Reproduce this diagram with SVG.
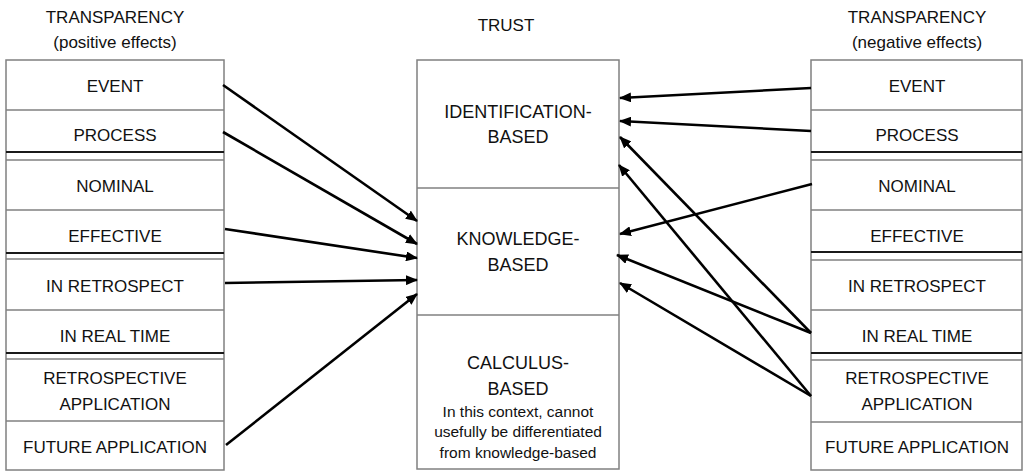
<svg xmlns="http://www.w3.org/2000/svg" width="1023" height="473" viewBox="0 0 1023 473">
<style>
text{font-family:"Liberation Sans",Arial,sans-serif;fill:#111;text-anchor:middle}
.h{font-size:17px}
.l{font-size:17px}
.c{font-size:18px}
.s{font-size:15.5px}
.box{fill:#fff;stroke:#808080;stroke-width:1.5}
.thin{stroke:#808080;stroke-width:1.5}
.thick{stroke:#1a1a1a;stroke-width:2.2}
.arr{stroke:#000;stroke-width:2.6;fill:none;marker-end:url(#ah)}
</style>
<defs>
<marker id="ah" markerUnits="userSpaceOnUse" markerWidth="12" markerHeight="10" refX="11" refY="5" orient="auto">
<path d="M0,0 L12,5 L0,10 z" fill="#000"/>
</marker>
</defs>
<rect width="1023" height="473" fill="#fff"/>

<g id="header-left">
<text class="h" x="115" y="23">TRANSPARENCY</text>
<text class="h" x="115" y="48">(positive effects)</text>
</g>
<g id="header-trust">
<text class="h" x="506" y="31">TRUST</text>
</g>
<g id="header-right">
<text class="h" x="917" y="23">TRANSPARENCY</text>
<text class="h" x="917" y="48">(negative effects)</text>
</g>

<g id="left-column">
<rect class="box" x="6" y="60" width="218" height="410"/>
<line class="thin" x1="6" y1="110" x2="224" y2="110"/>
<line class="thick" x1="6" y1="152" x2="224" y2="152"/>
<line class="thin" x1="6" y1="160" x2="224" y2="160"/>
<line class="thin" x1="6" y1="210" x2="224" y2="210"/>
<line class="thick" x1="6" y1="253" x2="224" y2="253"/>
<line class="thin" x1="6" y1="259" x2="224" y2="259"/>
<line class="thin" x1="6" y1="310" x2="224" y2="310"/>
<line class="thick" x1="6" y1="353" x2="224" y2="353"/>
<line class="thin" x1="6" y1="359" x2="224" y2="359"/>
<line class="thin" x1="6" y1="421" x2="224" y2="421"/>
<g id="l-event"><text class="l" x="115" y="92">EVENT</text></g>
<g id="l-process"><text class="l" x="115" y="141">PROCESS</text></g>
<g id="l-nominal"><text class="l" x="115" y="192">NOMINAL</text></g>
<g id="l-effective"><text class="l" x="115" y="242">EFFECTIVE</text></g>
<g id="l-inretrospect"><text class="l" x="115" y="292">IN RETROSPECT</text></g>
<g id="l-inrealtime"><text class="l" x="115" y="342">IN REAL TIME</text></g>
<g id="l-retroapp"><text class="l" x="115" y="384">RETROSPECTIVE</text><text class="l" x="115" y="410">APPLICATION</text></g>
<g id="l-futureapp"><text class="l" x="115" y="453">FUTURE APPLICATION</text></g>
</g>

<g id="trust-column">
<rect class="box" x="417" y="60" width="202" height="409"/>
<line class="thin" x1="417" y1="188" x2="619" y2="188"/>
<line class="thin" x1="417" y1="315" x2="619" y2="315"/>
<g id="t-identification"><text class="c" x="518" y="118">IDENTIFICATION-</text><text class="c" x="518" y="143">BASED</text></g>
<g id="t-knowledge"><text class="c" x="518" y="245">KNOWLEDGE-</text><text class="c" x="518" y="271">BASED</text></g>
<g id="t-calculus"><text class="c" x="518" y="369">CALCULUS-</text><text class="c" x="518" y="395">BASED</text>
<text class="s" x="518" y="417">In this context, cannot</text>
<text class="s" x="518" y="437">usefully be differentiated</text>
<text class="s" x="518" y="458">from knowledge-based</text></g>
</g>

<g id="right-column">
<rect class="box" x="811" y="60" width="211" height="410"/>
<line class="thin" x1="811" y1="110" x2="1022" y2="110"/>
<line class="thick" x1="811" y1="152" x2="1022" y2="152"/>
<line class="thin" x1="811" y1="160" x2="1022" y2="160"/>
<line class="thin" x1="811" y1="210" x2="1022" y2="210"/>
<line class="thick" x1="811" y1="252" x2="1022" y2="252"/>
<line class="thin" x1="811" y1="260" x2="1022" y2="260"/>
<line class="thin" x1="811" y1="310" x2="1022" y2="310"/>
<line class="thick" x1="811" y1="353" x2="1022" y2="353"/>
<line class="thin" x1="811" y1="360" x2="1022" y2="360"/>
<line class="thin" x1="811" y1="422" x2="1022" y2="422"/>
<g id="r-event"><text class="l" x="917" y="92">EVENT</text></g>
<g id="r-process"><text class="l" x="917" y="141">PROCESS</text></g>
<g id="r-nominal"><text class="l" x="917" y="192">NOMINAL</text></g>
<g id="r-effective"><text class="l" x="917" y="242">EFFECTIVE</text></g>
<g id="r-inretrospect"><text class="l" x="917" y="292">IN RETROSPECT</text></g>
<g id="r-inrealtime"><text class="l" x="917" y="342">IN REAL TIME</text></g>
<g id="r-retroapp"><text class="l" x="917" y="384">RETROSPECTIVE</text><text class="l" x="917" y="410">APPLICATION</text></g>
<g id="r-futureapp"><text class="l" x="917" y="453">FUTURE APPLICATION</text></g>
</g>

<g id="connectors">
<line class="arr" x1="223" y1="85" x2="417" y2="221"/>
<line class="arr" x1="223" y1="132" x2="417" y2="244"/>
<line class="arr" x1="225" y1="229" x2="417" y2="258"/>
<line class="arr" x1="225" y1="283" x2="417" y2="280"/>
<line class="arr" x1="226" y1="445" x2="417" y2="294"/>
<line class="arr" x1="811" y1="88" x2="620" y2="98"/>
<line class="arr" x1="811" y1="131" x2="620" y2="121"/>
<line class="arr" x1="812" y1="184" x2="620" y2="234"/>
<line class="arr" x1="811" y1="333" x2="620" y2="137"/>
<line class="arr" x1="811" y1="333" x2="617" y2="255"/>
<line class="arr" x1="811" y1="396" x2="619" y2="165"/>
<line class="arr" x1="811" y1="396" x2="620" y2="283"/>
</g>
</svg>
